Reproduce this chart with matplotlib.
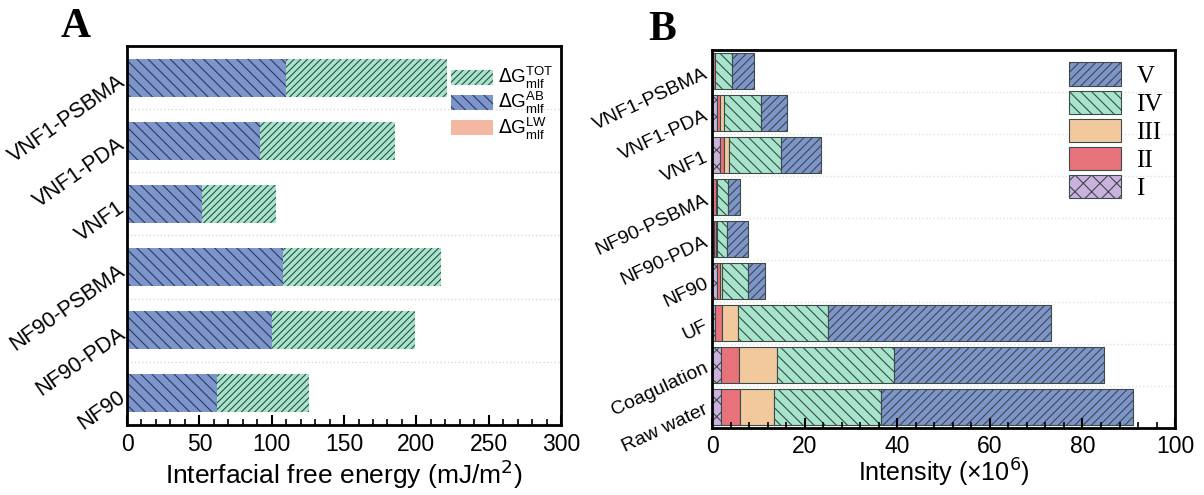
import matplotlib
matplotlib.use('Agg')
import matplotlib.pyplot as plt
import numpy as np
from matplotlib.patches import Patch
from matplotlib.ticker import MultipleLocator, AutoMinorLocator

plt.rcParams['font.family'] = ['Liberation Sans', 'DejaVu Sans']
plt.rcParams['hatch.linewidth'] = 0.8

# panel A data (bottom to top)
membranes_a = ['NF90', 'NF90-PDA', 'NF90-PSBMA', 'VNF1', 'VNF1-PDA', 'VNF1-PSBMA']
g_tot = [126, 199, 217, 103, 185, 221]
g_ab = [62, 100, 108, 52, 92, 110]

# panel B data (bottom to top), components I..V
samples_b = ['Raw water', 'Coagulation', 'UF', 'NF90', 'NF90-PDA', 'NF90-PSBMA',
             'VNF1', 'VNF1-PDA', 'VNF1-PSBMA']
comp_I = [1.9, 1.9, 0.6, 1.0, 0.4, 0.3, 1.7, 1.1, 0.2]
comp_II = [4.1, 3.9, 1.5, 0.8, 0.5, 0.6, 0.8, 0.6, 0.4]
comp_III = [7.4, 8.3, 3.5, 0.3, 0.1, 0.1, 1.1, 0.8, 0.1]
comp_IV = [23.0, 25.2, 19.5, 5.7, 2.3, 2.4, 11.2, 8.1, 3.7]
comp_V = [54.6, 45.3, 48.0, 3.7, 4.5, 2.6, 8.7, 5.6, 4.6]
comp_names = ['I', 'II', 'III', 'IV', 'V']

blue = '#7e95cb'
green = '#a6e4cc'
salmon = '#f4b7a2'
peach = '#f2c99d'
red = '#e8737b'
purple = '#cbb2de'

fig = plt.figure(figsize=(12.04, 4.95), dpi=100)

# ---------------- panel A ----------------
ax1 = fig.add_axes([0.1055, 0.1414, 0.3605, 0.7657])
y = np.arange(len(membranes_a))
ax1.barh(y, g_tot, height=0.6, color=green, hatch='/////', edgecolor='#2f4f45', linewidth=0)
ax1.barh(y, g_ab, height=0.6, color=blue, hatch='\\\\\\', edgecolor='#2b3a5e', linewidth=0)
ax1.set_xlim(0, 300)
ax1.set_ylim(-0.5, 5.5)
ax1.set_yticks(y)
ax1.set_yticklabels(membranes_a, rotation=35, fontsize=15.5, ha='right', rotation_mode='anchor')
ax1.xaxis.set_major_locator(MultipleLocator(50))
ax1.xaxis.set_minor_locator(AutoMinorLocator(5))
ax1.tick_params(axis='x', which='major', direction='in', length=7, width=1.5, labelsize=16.5, pad=6)
ax1.tick_params(axis='x', which='minor', direction='in', length=4, width=1.2)
ax1.tick_params(axis='y', which='both', length=0, pad=4)
ax1.set_xlabel('Interfacial free energy (mJ/m$^2$)', fontsize=19, labelpad=1)
for yy in np.arange(0.5, 5.5, 1):
    ax1.axhline(yy, color='#d8d8d8', linestyle=':', linewidth=1, zorder=0)
for s in ax1.spines.values():
    s.set_linewidth(2)
handles_a = [Patch(facecolor=green, hatch='/////', edgecolor='#2f4f45', linewidth=0),
             Patch(facecolor=blue, hatch='\\\\\\', edgecolor='#2b3a5e', linewidth=0),
             Patch(facecolor=salmon, edgecolor=salmon, linewidth=0)]
labels_a = [r'$\Delta\mathregular{G}_{\mathregular{mlf}}^{\mathregular{TOT}}$',
            r'$\Delta\mathregular{G}_{\mathregular{mlf}}^{\mathregular{AB}}$',
            r'$\Delta\mathregular{G}_{\mathregular{mlf}}^{\mathregular{LW}}$']
ax1.legend(handles_a, labels_a, loc='upper right', frameon=False, fontsize=13.5,
           handlelength=2.2, handleheight=0.85, handletextpad=0.3, labelspacing=-0.05,
           borderaxespad=0.1, bbox_to_anchor=(1.005, 0.975))
fig.text(0.063, 0.945, 'A', fontsize=30, fontweight='bold', family='Liberation Serif',
         ha='center', va='center')

# ---------------- panel B ----------------
ax2 = fig.add_axes([0.5914, 0.135, 0.3846, 0.764])
yb = np.arange(len(samples_b))
comps = [comp_I, comp_II, comp_III, comp_IV, comp_V]
colors_b = [purple, red, peach, green, blue]
hatches_b = ['xx', '', '', '\\\\\\', '////']
left = np.zeros(len(samples_b))
bars_b = []
for vals, c, h, name in zip(comps, colors_b, hatches_b, comp_names):
    b = ax2.barh(yb, vals, left=left, height=0.85, color=c, hatch=h,
                 edgecolor='#3d4a4a', linewidth=0.8, label=name)
    bars_b.append(b)
    left = left + np.array(vals)
ax2.set_xlim(0, 100)
ax2.set_ylim(-0.5, 8.5)
ax2.set_yticks(yb)
ax2.set_yticklabels(samples_b, rotation=25, fontsize=14, ha='right', rotation_mode='anchor')
ax2.xaxis.set_major_locator(MultipleLocator(20))
ax2.xaxis.set_minor_locator(AutoMinorLocator(5))
ax2.tick_params(axis='x', which='major', direction='in', length=7, width=1.5, labelsize=16.5, pad=5)
ax2.tick_params(axis='x', which='minor', direction='in', length=4, width=1.2)
ax2.tick_params(axis='y', which='both', length=0, pad=4)
ax2.set_xlabel('Intensity (×10$^6$)', fontsize=18, labelpad=-1)
for yy in np.arange(0.5, 8.5, 1):
    ax2.axhline(yy, color='#e0e0e0', linestyle=':', linewidth=1, zorder=0)
for s in ax2.spines.values():
    s.set_linewidth(2)
ax2.legend(bars_b[::-1], comp_names[::-1], loc='upper right', frameon=False,
           prop={'family': 'Liberation Serif', 'size': 18},
           handlelength=2.1, handleheight=1.05, handletextpad=0.6, labelspacing=0.12,
           borderaxespad=0.1, bbox_to_anchor=(1.0, 1.0))
fig.text(0.55, 0.94, 'B', fontsize=30, fontweight='bold', family='Liberation Serif',
         ha='center', va='center')

fig.savefig('out.png', dpi=100)
